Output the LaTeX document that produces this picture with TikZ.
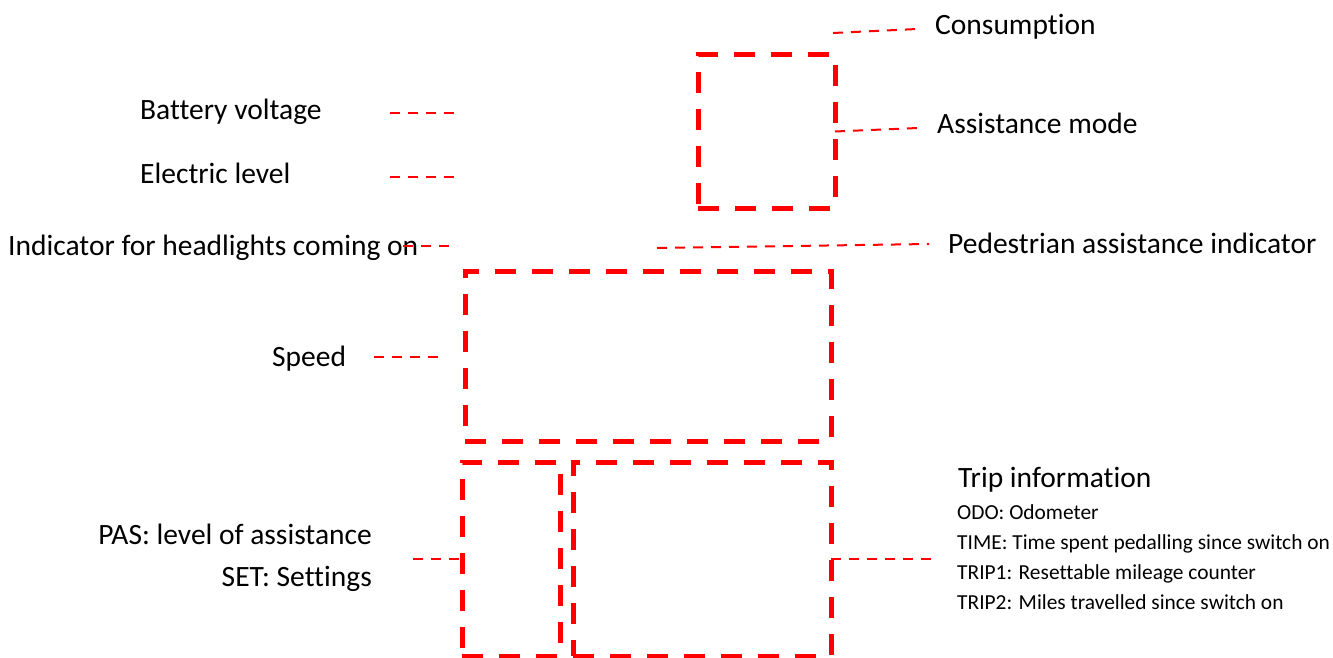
\documentclass[tikz,border=0pt]{standalone}
\usepackage{fontspec}
\setmainfont{Carlito}[Ligatures={NoCommon}]
\usetikzlibrary{positioning}

\begin{document}
\begin{tikzpicture}[x=1pt,y=-1pt]
    \tikzset{
        databox/.style={draw=red, line width=5pt, dash pattern=on 21pt off 16pt, inner sep=0pt, outer sep=0pt},
        link/.style={draw=red, line width=2pt, dash pattern=on 10pt off 8pt},
        biglabel/.style={inner sep=0pt, font=\fontsize{29.5}{35}\selectfont},
        smalllabel/.style={inner sep=0pt, font=\fontsize{21.4}{25}\selectfont},}
    \useasboundingbox (0,0) rectangle (1333,658);
    % display zones
    \node[databox, minimum width=137pt, minimum height=153pt] (mode) at (766.5,131.5) {};
    \node[databox, minimum width=366pt, minimum height=170pt] (speedbox) at (648,356) {};
    \node[databox, minimum width=98pt, minimum height=194pt] (pasbox) at (511,559) {};
    \node[databox, minimum width=258pt, minimum height=194pt] (tripbox) at (702,559) {};
    % labels
    \node[biglabel, anchor=base west] (cons) at (935,35) {Consumption};
    \node[biglabel, anchor=base west] (assist) at (937,134) {Assistance mode};
    \node[biglabel, anchor=base west] (batt) at (140,120) {Battery voltage};
    \node[biglabel, anchor=base west] (level) at (140,183) {Electric level};
    \node[biglabel, anchor=base west] (light) at (8,255) {Indicator for headlights coming on};
    \node[biglabel, anchor=base west] (ped) at (948,253) {Pedestrian assistance indicator};
    \node[biglabel, anchor=base west] (speed) at (272,366) {Speed};
    \node[biglabel, anchor=base east] (pas) at (372,544) {PAS: level of assistance};
    \node[biglabel, anchor=base east] (set) at (372,586) {SET: Settings};
    \node[biglabel, anchor=base west] (trip) at (958,487) {Trip information};
    \node[smalllabel, anchor=base west] (odo) at (957,519) {ODO: Odometer};
    \node[smalllabel, anchor=base west] (time) at (957,549) {TIME: Time spent pedalling since switch on};
    \node[smalllabel, anchor=base west] (trip1) at (957,579) {TRIP1: Resettable mileage counter};
    \node[smalllabel, anchor=base west] (trip2) at (957,609) {TRIP2: Miles travelled since switch on};
    % connector ends
    \coordinate (cons-a) at (833,33);
    \coordinate (cons-b) at (917,29);
    \coordinate (assist-b) at (918,128);
    \coordinate (batt-a) at (390,113);
    \coordinate (batt-b) at (457,113);
    \coordinate (level-a) at (390,177);
    \coordinate (level-b) at (457,177);
    \coordinate (light-a) at (403,246);
    \coordinate (light-b) at (457,246);
    \coordinate (ped-a) at (657,248);
    \coordinate (ped-b) at (929,244);
    \coordinate (speed-a) at (374,357);
    \coordinate (speed-b) at (443,357);
    \coordinate (pas-a) at (413,559);
    \coordinate (trip-b) at (938,559);
    % connectors
    \draw[link] (cons-a) -- (cons-b);
    \draw[link] (mode.east) -- (assist-b);
    \draw[link] (batt-a) -- (batt-b);
    \draw[link] (level-a) -- (level-b);
    \draw[link] (light-a) -- (light-b);
    \draw[link] (ped-a) -- (ped-b);
    \draw[link] (speed-a) -- (speed-b);
    \draw[link] (pas-a) -- (pasbox.west);
    \draw[link] (tripbox.east) -- (trip-b);
\end{tikzpicture}
\end{document}
